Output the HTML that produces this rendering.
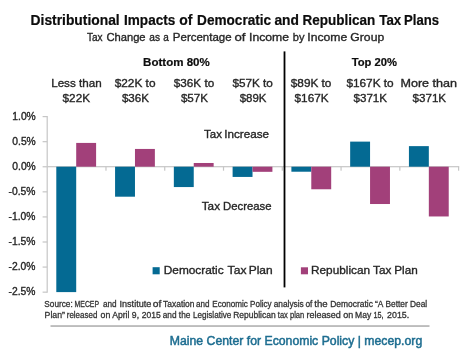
<!DOCTYPE html>
<html><head><meta charset="utf-8"><style>
html,body{margin:0;padding:0;background:#fff;width:474px;height:355px;overflow:hidden}
svg{display:block;will-change:transform}
text{font-family:"Liberation Sans",sans-serif}
</style></head><body>
<svg width="474" height="355" viewBox="0 0 474 355">
<rect width="474" height="355" fill="#fff"/>
<rect x="46.60" y="116.0" width="1.2" height="176.70" fill="#c6c6c6"/>
<rect x="42.6" y="116.00" width="4.60" height="1.2" fill="#c6c6c6"/>
<rect x="42.6" y="141.08" width="4.60" height="1.2" fill="#c6c6c6"/>
<rect x="42.6" y="166.16" width="4.60" height="1.2" fill="#c6c6c6"/>
<rect x="42.6" y="191.24" width="4.60" height="1.2" fill="#c6c6c6"/>
<rect x="42.6" y="216.32" width="4.60" height="1.2" fill="#c6c6c6"/>
<rect x="42.6" y="241.40" width="4.60" height="1.2" fill="#c6c6c6"/>
<rect x="42.6" y="266.48" width="4.60" height="1.2" fill="#c6c6c6"/>
<rect x="42.6" y="291.56" width="4.60" height="1.2" fill="#c6c6c6"/>
<rect x="47.20" y="166.10" width="412.00" height="1.2" fill="#c6c6c6"/>
<rect x="105.37" y="166.70" width="1.2" height="4" fill="#c6c6c6"/>
<rect x="164.14" y="166.70" width="1.2" height="4" fill="#c6c6c6"/>
<rect x="222.91" y="166.70" width="1.2" height="4" fill="#c6c6c6"/>
<rect x="281.69" y="166.70" width="1.2" height="4" fill="#c6c6c6"/>
<rect x="340.46" y="166.70" width="1.2" height="4" fill="#c6c6c6"/>
<rect x="399.23" y="166.70" width="1.2" height="4" fill="#c6c6c6"/>
<rect x="458.00" y="166.70" width="1.2" height="4" fill="#c6c6c6"/>
<rect x="56.30" y="166.70" width="19.90" height="125.40" fill="#046a93"/>
<rect x="76.20" y="142.92" width="19.90" height="23.78" fill="#a2407a"/>
<rect x="115.07" y="166.70" width="19.90" height="30.00" fill="#046a93"/>
<rect x="134.97" y="148.94" width="19.90" height="17.76" fill="#a2407a"/>
<rect x="173.84" y="166.70" width="19.90" height="20.36" fill="#046a93"/>
<rect x="193.74" y="162.99" width="19.90" height="3.71" fill="#a2407a"/>
<rect x="232.61" y="166.70" width="19.90" height="10.23" fill="#046a93"/>
<rect x="252.51" y="166.70" width="19.90" height="5.12" fill="#a2407a"/>
<rect x="291.39" y="166.70" width="19.90" height="5.02" fill="#046a93"/>
<rect x="311.29" y="166.70" width="19.90" height="22.57" fill="#a2407a"/>
<rect x="350.16" y="141.62" width="19.90" height="25.08" fill="#046a93"/>
<rect x="370.06" y="166.70" width="19.90" height="37.32" fill="#a2407a"/>
<rect x="408.93" y="146.13" width="19.90" height="20.57" fill="#046a93"/>
<rect x="428.83" y="166.70" width="19.90" height="49.76" fill="#a2407a"/>
<rect x="283.6" y="51.4" width="1.8" height="236.0" fill="#000"/>
<rect x="152.6" y="267.2" width="7.1" height="7.1" fill="#046a93"/>
<rect x="300.9" y="267.3" width="7.1" height="7.0" fill="#a2407a"/>
<rect x="50.5" y="325.2" width="379.0" height="1.7" fill="#b5b5b5"/>
<text transform="matrix(0.9962 0 0 1 30.55 0)" x="0" y="24.90" font-size="13.9" font-weight="bold" fill="#0d0d0d" stroke="#0d0d0d" stroke-width="0.2">Distributional</text>
<text transform="matrix(0.9761 0 0 1 124.06 0)" x="0" y="24.90" font-size="13.9" font-weight="bold" fill="#0d0d0d" stroke="#0d0d0d" stroke-width="0.2">Impacts</text>
<text transform="matrix(1.0044 0 0 1 179.30 0)" x="0" y="24.90" font-size="13.9" font-weight="bold" fill="#0d0d0d" stroke="#0d0d0d" stroke-width="0.2">of</text>
<text transform="matrix(0.9793 0 0 1 197.06 0)" x="0" y="24.90" font-size="13.9" font-weight="bold" fill="#0d0d0d" stroke="#0d0d0d" stroke-width="0.2">Democratic</text>
<text transform="matrix(0.9941 0 0 1 274.43 0)" x="0" y="24.90" font-size="13.9" font-weight="bold" fill="#0d0d0d" stroke="#0d0d0d" stroke-width="0.2">and</text>
<text transform="matrix(0.9708 0 0 1 302.47 0)" x="0" y="24.90" font-size="13.9" font-weight="bold" fill="#0d0d0d" stroke="#0d0d0d" stroke-width="0.2">Republican</text>
<text transform="matrix(0.9543 0 0 1 379.27 0)" x="0" y="24.90" font-size="13.9" font-weight="bold" fill="#0d0d0d" stroke="#0d0d0d" stroke-width="0.2">Tax</text>
<text transform="matrix(0.9459 0 0 1 403.99 0)" x="0" y="24.90" font-size="13.9" font-weight="bold" fill="#0d0d0d" stroke="#0d0d0d" stroke-width="0.2">Plans</text>
<text transform="matrix(0.8642 0 0 1 87.05 0)" x="0" y="41.10" font-size="11.6" font-weight="normal" fill="#262626" stroke="#262626" stroke-width="0.35">Tax</text>
<text transform="matrix(0.9653 0 0 1 106.39 0)" x="0" y="41.10" font-size="11.6" font-weight="normal" fill="#262626" stroke="#262626" stroke-width="0.35">Change</text>
<text transform="matrix(0.8796 0 0 1 149.27 0)" x="0" y="41.10" font-size="11.6" font-weight="normal" fill="#262626" stroke="#262626" stroke-width="0.35">as</text>
<text transform="matrix(0.8585 0 0 1 163.18 0)" x="0" y="41.10" font-size="11.6" font-weight="normal" fill="#262626" stroke="#262626" stroke-width="0.35">a</text>
<text transform="matrix(0.9902 0 0 1 172.87 0)" x="0" y="41.10" font-size="11.6" font-weight="normal" fill="#262626" stroke="#262626" stroke-width="0.35">Percentage</text>
<text transform="matrix(1.1347 0 0 1 234.49 0)" x="0" y="41.10" font-size="11.6" font-weight="normal" fill="#262626" stroke="#262626" stroke-width="0.35">of</text>
<text transform="matrix(1.0546 0 0 1 249.00 0)" x="0" y="41.10" font-size="11.6" font-weight="normal" fill="#262626" stroke="#262626" stroke-width="0.35">Income</text>
<text transform="matrix(0.9567 0 0 1 292.83 0)" x="0" y="41.10" font-size="11.6" font-weight="normal" fill="#262626" stroke="#262626" stroke-width="0.35">by</text>
<text transform="matrix(1.0519 0 0 1 307.30 0)" x="0" y="41.10" font-size="11.6" font-weight="normal" fill="#262626" stroke="#262626" stroke-width="0.35">Income</text>
<text transform="matrix(1.0493 0 0 1 350.37 0)" x="0" y="41.10" font-size="11.6" font-weight="normal" fill="#262626" stroke="#262626" stroke-width="0.35">Group</text>
<text transform="matrix(1.0047 0 0 1 143.09 0)" x="0" y="66.00" font-size="11.5" font-weight="bold" fill="#0d0d0d" stroke="#0d0d0d" stroke-width="0.2">Bottom 80%</text>
<text transform="matrix(0.9764 0 0 1 351.69 0)" x="0" y="66.00" font-size="11.5" font-weight="bold" fill="#0d0d0d" stroke="#0d0d0d" stroke-width="0.2">Top 20%</text>
<text transform="matrix(1.0036 0 0 1 51.16 0)" x="0" y="86.80" font-size="11.6" font-weight="normal" fill="#262626" stroke="#262626" stroke-width="0.35">Less than</text>
<text transform="matrix(1.0126 0 0 1 62.58 0)" x="0" y="102.40" font-size="11.6" font-weight="normal" fill="#262626" stroke="#262626" stroke-width="0.35">$22K</text>
<text transform="matrix(1.0209 0 0 1 114.68 0)" x="0" y="86.80" font-size="11.6" font-weight="normal" fill="#262626" stroke="#262626" stroke-width="0.35">$22K to</text>
<text transform="matrix(1.0013 0 0 1 121.88 0)" x="0" y="102.40" font-size="11.6" font-weight="normal" fill="#262626" stroke="#262626" stroke-width="0.35">$36K</text>
<text transform="matrix(1.0108 0 0 1 173.78 0)" x="0" y="86.80" font-size="11.6" font-weight="normal" fill="#262626" stroke="#262626" stroke-width="0.35">$36K to</text>
<text transform="matrix(1.0013 0 0 1 180.88 0)" x="0" y="102.40" font-size="11.6" font-weight="normal" fill="#262626" stroke="#262626" stroke-width="0.35">$57K</text>
<text transform="matrix(1.0133 0 0 1 232.38 0)" x="0" y="86.80" font-size="11.6" font-weight="normal" fill="#262626" stroke="#262626" stroke-width="0.35">$57K to</text>
<text transform="matrix(0.9861 0 0 1 239.68 0)" x="0" y="102.40" font-size="11.6" font-weight="normal" fill="#262626" stroke="#262626" stroke-width="0.35">$89K</text>
<text transform="matrix(1.0158 0 0 1 290.78 0)" x="0" y="86.80" font-size="11.6" font-weight="normal" fill="#262626" stroke="#262626" stroke-width="0.35">$89K to</text>
<text transform="matrix(1.0154 0 0 1 294.58 0)" x="0" y="102.40" font-size="11.6" font-weight="normal" fill="#262626" stroke="#262626" stroke-width="0.35">$167K</text>
<text transform="matrix(1.0199 0 0 1 346.38 0)" x="0" y="86.80" font-size="11.6" font-weight="normal" fill="#262626" stroke="#262626" stroke-width="0.35">$167K to</text>
<text transform="matrix(1.0001 0 0 1 353.48 0)" x="0" y="102.40" font-size="11.6" font-weight="normal" fill="#262626" stroke="#262626" stroke-width="0.35">$371K</text>
<text transform="matrix(1.0860 0 0 1 400.40 0)" x="0" y="86.80" font-size="11.6" font-weight="normal" fill="#262626" stroke="#262626" stroke-width="0.35">More than</text>
<text transform="matrix(1.0001 0 0 1 412.58 0)" x="0" y="102.40" font-size="11.6" font-weight="normal" fill="#262626" stroke="#262626" stroke-width="0.35">$371K</text>
<text transform="matrix(1.0000 0 0 1 12.31 0)" x="0" y="119.90" font-size="10.3" font-weight="normal" fill="#262626" stroke="#262626" stroke-width="0.35">1.0%</text>
<text transform="matrix(1.0000 0 0 1 12.31 0)" x="0" y="144.98" font-size="10.3" font-weight="normal" fill="#262626" stroke="#262626" stroke-width="0.35">0.5%</text>
<text transform="matrix(1.0000 0 0 1 12.31 0)" x="0" y="170.06" font-size="10.3" font-weight="normal" fill="#262626" stroke="#262626" stroke-width="0.35">0.0%</text>
<text transform="matrix(1.0000 0 0 1 8.53 0)" x="0" y="195.14" font-size="10.3" font-weight="normal" fill="#262626" stroke="#262626" stroke-width="0.35">-0.5%</text>
<text transform="matrix(1.0000 0 0 1 8.53 0)" x="0" y="220.22" font-size="10.3" font-weight="normal" fill="#262626" stroke="#262626" stroke-width="0.35">-1.0%</text>
<text transform="matrix(1.0000 0 0 1 8.53 0)" x="0" y="245.30" font-size="10.3" font-weight="normal" fill="#262626" stroke="#262626" stroke-width="0.35">-1.5%</text>
<text transform="matrix(1.0000 0 0 1 8.53 0)" x="0" y="270.38" font-size="10.3" font-weight="normal" fill="#262626" stroke="#262626" stroke-width="0.35">-2.0%</text>
<text transform="matrix(1.0000 0 0 1 8.53 0)" x="0" y="295.46" font-size="10.3" font-weight="normal" fill="#262626" stroke="#262626" stroke-width="0.35">-2.5%</text>
<text transform="matrix(0.9821 0 0 1 204.03 0)" x="0" y="138.20" font-size="11.7" font-weight="normal" fill="#262626" stroke="#262626" stroke-width="0.35">Tax</text>
<text transform="matrix(0.9993 0 0 1 224.25 0)" x="0" y="138.20" font-size="11.7" font-weight="normal" fill="#262626" stroke="#262626" stroke-width="0.35">Increase</text>
<text transform="matrix(1.0048 0 0 1 201.72 0)" x="0" y="210.20" font-size="11.7" font-weight="normal" fill="#262626" stroke="#262626" stroke-width="0.35">Tax</text>
<text transform="matrix(0.9686 0 0 1 223.08 0)" x="0" y="210.20" font-size="11.7" font-weight="normal" fill="#262626" stroke="#262626" stroke-width="0.35">Decrease</text>
<text transform="matrix(1.0037 0 0 1 163.80 0)" x="0" y="274.50" font-size="11.8" font-weight="normal" fill="#262626" stroke="#262626" stroke-width="0.35">Democratic</text>
<text transform="matrix(1.0261 0 0 1 227.62 0)" x="0" y="274.50" font-size="11.8" font-weight="normal" fill="#262626" stroke="#262626" stroke-width="0.35">Tax</text>
<text transform="matrix(1.0143 0 0 1 248.69 0)" x="0" y="274.50" font-size="11.8" font-weight="normal" fill="#262626" stroke="#262626" stroke-width="0.35">Plan</text>
<text transform="matrix(1.0007 0 0 1 311.00 0)" x="0" y="274.50" font-size="11.8" font-weight="normal" fill="#262626" stroke="#262626" stroke-width="0.35">Republican</text>
<text transform="matrix(0.9979 0 0 1 373.12 0)" x="0" y="274.50" font-size="11.8" font-weight="normal" fill="#262626" stroke="#262626" stroke-width="0.35">Tax</text>
<text transform="matrix(0.9961 0 0 1 394.20 0)" x="0" y="274.50" font-size="11.8" font-weight="normal" fill="#262626" stroke="#262626" stroke-width="0.35">Plan</text>
<text transform="matrix(0.9169 0 0 1 44.30 0)" x="0" y="306.70" font-size="9.0" font-weight="normal" fill="#333333" stroke="#333333" stroke-width="0.3">Source:</text>
<text transform="matrix(0.7689 0 0 1 74.52 0)" x="0" y="306.70" font-size="9.0" font-weight="normal" fill="#333333" stroke="#333333" stroke-width="0.3">MECEP</text>
<text transform="matrix(0.9082 0 0 1 102.93 0)" x="0" y="306.70" font-size="9.0" font-weight="normal" fill="#333333" stroke="#333333" stroke-width="0.3">and</text>
<text transform="matrix(1.0105 0 0 1 119.51 0)" x="0" y="306.70" font-size="9.0" font-weight="normal" fill="#333333" stroke="#333333" stroke-width="0.3">Institute</text>
<text transform="matrix(1.1436 0 0 1 152.85 0)" x="0" y="306.70" font-size="9.0" font-weight="normal" fill="#333333" stroke="#333333" stroke-width="0.3">of</text>
<text transform="matrix(0.9352 0 0 1 163.12 0)" x="0" y="306.70" font-size="9.0" font-weight="normal" fill="#333333" stroke="#333333" stroke-width="0.3">Taxation</text>
<text transform="matrix(0.9012 0 0 1 195.93 0)" x="0" y="306.70" font-size="9.0" font-weight="normal" fill="#333333" stroke="#333333" stroke-width="0.3">and</text>
<text transform="matrix(0.8993 0 0 1 212.35 0)" x="0" y="306.70" font-size="9.0" font-weight="normal" fill="#333333" stroke="#333333" stroke-width="0.3">Economic Policy</text>
<text transform="matrix(0.9266 0 0 1 273.72 0)" x="0" y="306.70" font-size="9.0" font-weight="normal" fill="#333333" stroke="#333333" stroke-width="0.3">analysis</text>
<text transform="matrix(0.9258 0 0 1 305.42 0)" x="0" y="306.70" font-size="9.0" font-weight="normal" fill="#333333" stroke="#333333" stroke-width="0.3">of</text>
<text transform="matrix(1.0687 0 0 1 314.30 0)" x="0" y="306.70" font-size="9.0" font-weight="normal" fill="#333333" stroke="#333333" stroke-width="0.3">the</text>
<text transform="matrix(0.9391 0 0 1 330.23 0)" x="0" y="306.70" font-size="9.0" font-weight="normal" fill="#333333" stroke="#333333" stroke-width="0.3">Democratic</text>
<text transform="matrix(0.9312 0 0 1 375.04 0)" x="0" y="306.70" font-size="9.0" font-weight="normal" fill="#333333" stroke="#333333" stroke-width="0.3">“A</text>
<text transform="matrix(0.9273 0 0 1 385.54 0)" x="0" y="306.70" font-size="9.0" font-weight="normal" fill="#333333" stroke="#333333" stroke-width="0.3">Better Deal</text>
<text transform="matrix(0.9690 0 0 1 44.62 0)" x="0" y="317.70" font-size="9.0" font-weight="normal" fill="#333333" stroke="#333333" stroke-width="0.3">Plan”</text>
<text transform="matrix(0.8860 0 0 1 66.75 0)" x="0" y="317.70" font-size="9.0" font-weight="normal" fill="#333333" stroke="#333333" stroke-width="0.3">released</text>
<text transform="matrix(0.9758 0 0 1 100.51 0)" x="0" y="317.70" font-size="9.0" font-weight="normal" fill="#333333" stroke="#333333" stroke-width="0.3">on</text>
<text transform="matrix(0.9596 0 0 1 112.18 0)" x="0" y="317.70" font-size="9.0" font-weight="normal" fill="#333333" stroke="#333333" stroke-width="0.3">April 9,</text>
<text transform="matrix(0.9460 0 0 1 141.70 0)" x="0" y="317.70" font-size="9.0" font-weight="normal" fill="#333333" stroke="#333333" stroke-width="0.3">2015</text>
<text transform="matrix(0.9216 0 0 1 162.72 0)" x="0" y="317.70" font-size="9.0" font-weight="normal" fill="#333333" stroke="#333333" stroke-width="0.3">and the</text>
<text transform="matrix(0.8980 0 0 1 193.05 0)" x="0" y="317.70" font-size="9.0" font-weight="normal" fill="#333333" stroke="#333333" stroke-width="0.3">Legislative</text>
<text transform="matrix(0.9427 0 0 1 233.23 0)" x="0" y="317.70" font-size="9.0" font-weight="normal" fill="#333333" stroke="#333333" stroke-width="0.3">Republican</text>
<text transform="matrix(0.8364 0 0 1 277.84 0)" x="0" y="317.70" font-size="9.0" font-weight="normal" fill="#333333" stroke="#333333" stroke-width="0.3">tax plan</text>
<text transform="matrix(0.9993 0 0 1 306.40 0)" x="0" y="317.70" font-size="9.0" font-weight="normal" fill="#333333" stroke="#333333" stroke-width="0.3">released on</text>
<text transform="matrix(0.9521 0 0 1 355.03 0)" x="0" y="317.70" font-size="9.0" font-weight="normal" fill="#333333" stroke="#333333" stroke-width="0.3">May</text>
<text transform="matrix(0.8052 0 0 1 373.47 0)" x="0" y="317.70" font-size="9.0" font-weight="normal" fill="#333333" stroke="#333333" stroke-width="0.3">15,</text>
<text transform="matrix(0.9847 0 0 1 387.09 0)" x="0" y="317.70" font-size="9.0" font-weight="normal" fill="#333333" stroke="#333333" stroke-width="0.3">2015.</text>
<text transform="matrix(0.9589 0 0 1 169.82 0)" x="0" y="344.80" font-size="12.8" font-weight="normal" fill="#1d6d90" stroke="#1d6d90" stroke-width="0.5">Maine Center for Economic Policy | mecep.org</text>
</svg>
</body></html>
